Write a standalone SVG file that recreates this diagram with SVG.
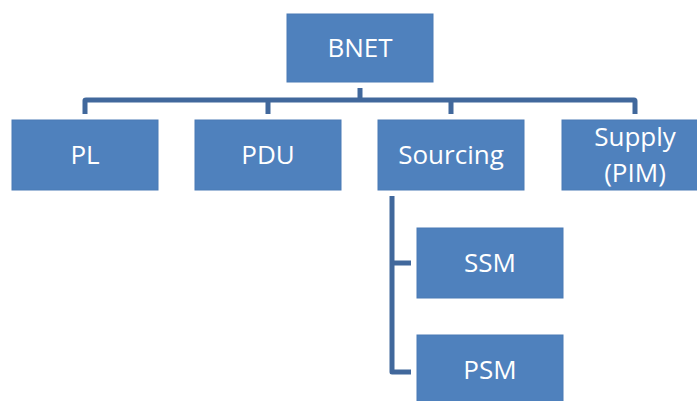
<svg xmlns="http://www.w3.org/2000/svg" width="697" height="401" viewBox="0 0 697 401">
<style>
.box{fill:#4F81BD;stroke:#4A7AB5;stroke-width:1}
.t{fill:#fff;font-family:"Open Sans","Liberation Sans",sans-serif;font-size:26px;text-anchor:middle}
.c{fill:none;stroke:#41689C;stroke-width:5;stroke-linejoin:round;stroke-linecap:butt}
</style>
<rect width="697" height="401" fill="#fff"/>
<g id="connectors">
<path class="c" d="M360 88V100"/>
<path class="c" d="M85 114V100.5Q85 100 86 100H634Q635 100 635 101V114"/>
<path class="c" d="M268 100V114M451 100V114"/>
<path class="c" d="M392 196V372H411M392 263H411"/>
</g>
<g id="BNET"><rect class="box" x="287" y="14" width="146" height="68"/><text class="t" x="360" y="57">BNET</text></g>
<g id="PL"><rect class="box" x="12" y="120" width="146" height="70"/><text class="t" x="85" y="164">PL</text></g>
<g id="PDU"><rect class="box" x="195" y="120" width="146" height="70"/><text class="t" x="268" y="164">PDU</text></g>
<g id="Sourcing"><rect class="box" x="378" y="120" width="146" height="70"/><text class="t" x="451" y="164">Sourcing</text></g>
<g id="Supply"><rect class="box" x="562" y="120" width="146" height="70"/><text class="t" x="635" y="146">Supply</text><text class="t" x="635" y="182">(PIM)</text></g>
<g id="SSM"><rect class="box" x="417" y="228" width="146" height="70"/><text class="t" x="490" y="272">SSM</text></g>
<g id="PSM"><rect class="box" x="417" y="335" width="146" height="70"/><text class="t" x="490" y="379">PSM</text></g>
</svg>
